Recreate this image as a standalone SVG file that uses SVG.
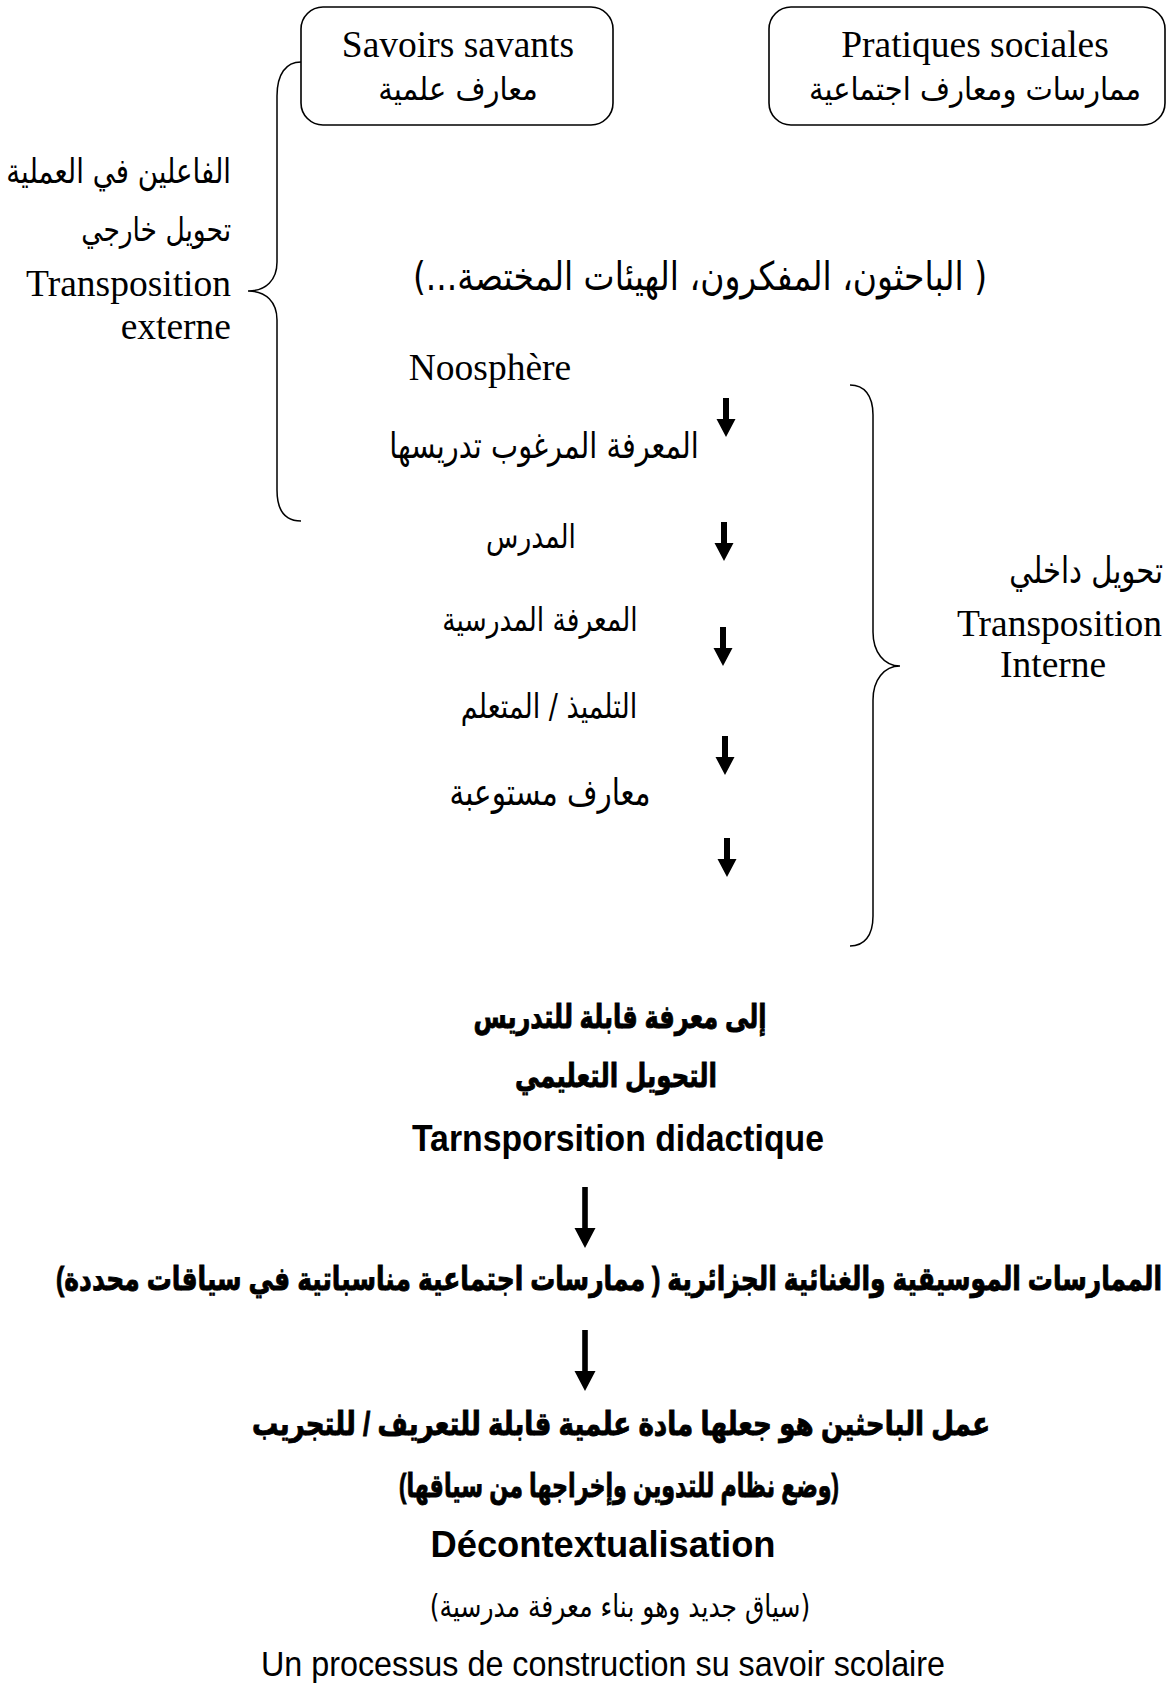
<svg xmlns="http://www.w3.org/2000/svg" xmlns:xlink="http://www.w3.org/1999/xlink" width="1168" height="1689" viewBox="0 0 1168 1689">
<style>
.box{fill:#fff;stroke:#000;stroke-width:1.6}
.br{fill:none;stroke:#000;stroke-width:1.5}
.tr{font-family:'Liberation Serif','DejaVu Sans',serif;font-size:37.5px;fill:#000}
.ar{font-family:'DejaVu Sans',sans-serif;fill:#000}
.bd{font-family:'Liberation Sans','DejaVu Sans',sans-serif;font-weight:bold;font-size:25px;fill:#000;stroke:#000;stroke-width:0.7}
.bl{font-family:'Liberation Sans',sans-serif;font-weight:bold;font-size:36px;fill:#000}
.rg{font-family:'Liberation Sans','DejaVu Sans',sans-serif;font-size:35px;fill:#000}
</style>
<defs>
<path id="sa" d="M-3,0 H3 V21 H9.5 L0,39 L-9.5,21 H-3 Z"/>
<path id="ba" d="M-2.8,0 H2.8 V41 H10.5 L0,61 L-10.5,41 H-2.8 Z"/>
</defs>
<rect width="1168" height="1689" fill="#fff"/>

<g id="savoirs-savants">
<rect class="box" x="301" y="7" width="312" height="118" rx="22"/>
<text class="tr" x="458" y="57" text-anchor="middle">Savoirs savants</text>
<text class="ar" transform="translate(458,100) scale(1,1.1)" text-anchor="middle" direction="rtl" style="font-size:29px">معارف علمية</text>
</g>

<g id="pratiques-sociales">
<rect class="box" x="769" y="7" width="396" height="118" rx="22"/>
<text class="tr" x="975" y="57" text-anchor="middle">Pratiques sociales</text>
<text class="ar" transform="translate(975,100) scale(1,1.1)" text-anchor="middle" direction="rtl" style="font-size:29px">ممارسات ومعارف اجتماعية</text>
</g>

<g id="externe">
<text class="ar" transform="translate(231,183) scale(1,1.25)" text-anchor="start" direction="rtl" style="font-size:27.6px">الفاعلين في العملية</text>
<text class="ar" transform="translate(231,241) scale(1,1.25)" text-anchor="start" direction="rtl" style="font-size:26.5px">تحويل خارجي</text>
<text class="tr" x="231" y="296" text-anchor="end">Transposition</text>
<text class="tr" x="231" y="339" text-anchor="end">externe</text>
</g>

<g id="acteurs">
<text class="ar" transform="translate(700,290) scale(1,1.2)" text-anchor="middle" direction="rtl" style="font-size:33px">( الباحثون، المفكرون، الهيئات المختصة...)</text>
</g>

<g id="noosphere">
<text class="tr" x="490" y="380" text-anchor="middle">Noosphère</text>
</g>

<g id="savoir-a-enseigner">
<text class="ar" transform="translate(544,458) scale(1,1.25)" text-anchor="middle" direction="rtl" style="font-size:28.8px">المعرفة المرغوب تدريسها</text>
</g>
<g id="enseignant">
<text class="ar" transform="translate(531,548) scale(1,1.25)" text-anchor="middle" direction="rtl" style="font-size:26.5px">المدرس</text>
</g>
<g id="savoir-scolaire">
<text class="ar" transform="translate(540,631) scale(1,1.25)" text-anchor="middle" direction="rtl" style="font-size:26.5px">المعرفة المدرسية</text>
</g>
<g id="eleve">
<text class="ar" transform="translate(549,718) scale(1,1.25)" text-anchor="middle" direction="rtl" style="font-size:27px">التلميذ / المتعلم</text>
</g>
<g id="savoirs-acquis">
<text class="ar" transform="translate(550,805) scale(1,1.25)" text-anchor="middle" direction="rtl" style="font-size:29.4px">معارف مستوعبة</text>
</g>

<g id="interne">
<text class="ar" transform="translate(1163,583) scale(1,1.25)" text-anchor="start" direction="rtl" style="font-size:29px">تحويل داخلي</text>
<text class="tr" x="957" y="636">Transposition</text>
<text class="tr" x="1000" y="677">Interne</text>
</g>

<g id="didactique">
<text class="bd" transform="translate(620,1028) scale(1,1.3)" text-anchor="middle" direction="rtl" textLength="293" lengthAdjust="spacingAndGlyphs">إلى معرفة قابلة للتدريس</text>
<text class="bd" transform="translate(616,1087) scale(1,1.3)" text-anchor="middle" direction="rtl" textLength="202" lengthAdjust="spacingAndGlyphs">التحويل التعليمي</text>
<text class="bl" x="618" y="1151" text-anchor="middle" textLength="412" lengthAdjust="spacingAndGlyphs">Tarnsporsition didactique</text>
</g>

<g id="pratiques-algeriennes">
<text class="bd" transform="translate(609,1290) scale(1,1.3)" text-anchor="middle" direction="rtl" textLength="1106" lengthAdjust="spacingAndGlyphs">الممارسات الموسيقية والغنائية الجزائرية ( ممارسات اجتماعية مناسباتية في سياقات محددة)</text>
</g>

<g id="decontextualisation">
<text class="bd" transform="translate(621,1435) scale(1,1.3)" text-anchor="middle" direction="rtl" textLength="738" lengthAdjust="spacingAndGlyphs">عمل الباحثين هو جعلها مادة علمية قابلة للتعريف / للتجريب</text>
<text class="bd" transform="translate(619,1497) scale(1,1.3)" text-anchor="middle" direction="rtl" textLength="440" lengthAdjust="spacingAndGlyphs">(وضع نظام للتدوين وإخراجها من سياقها)</text>
<text class="bl" x="603" y="1557" text-anchor="middle" textLength="345" lengthAdjust="spacingAndGlyphs">Décontextualisation</text>
<text class="ar" transform="translate(620,1617) scale(1,1.25)" text-anchor="middle" direction="rtl" style="font-size:25px">(سياق جديد وهو بناء معرفة مدرسية)</text>
<text class="rg" x="603" y="1676" text-anchor="middle" textLength="684" lengthAdjust="spacingAndGlyphs">Un processus de construction su savoir scolaire</text>
</g>

<g id="connectors">
<path class="br" d="M301,62 C286,62 277,74 277,96 L277,262 C277,280 266,291 248,291 C266,291 277,302 277,320 L277,490 C277,510 285,521 301,521"/>
<path class="br" d="M850,385 C864,385 873,395 873,415 L873,632 C873,652 884,666 900,666 C884,666 873,680 873,700 L873,916 C873,936 864,946 850,946"/>
<use href="#sa" xlink:href="#sa" x="726" y="398"/>
<use href="#sa" xlink:href="#sa" x="724" y="522"/>
<use href="#sa" xlink:href="#sa" x="723" y="627"/>
<use href="#sa" xlink:href="#sa" x="725" y="736"/>
<use href="#sa" xlink:href="#sa" x="727" y="838"/>
<use href="#ba" xlink:href="#ba" x="585" y="1187"/>
<use href="#ba" xlink:href="#ba" x="585" y="1330"/>
</g>
</svg>
